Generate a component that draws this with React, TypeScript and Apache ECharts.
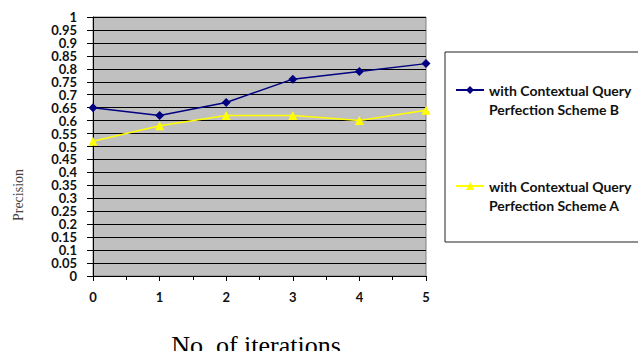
import React, { useEffect, useRef } from "react";
import * as echarts from "echarts";

const iterations = [0, 1, 2, 3, 4, 5];
const schemeB = [0.65, 0.62, 0.67, 0.76, 0.79, 0.82];
const schemeA = [0.52, 0.58, 0.62, 0.62, 0.6, 0.64];
const seriesNames = [
  "with Contextual Query Perfection Scheme B",
  "with Contextual Query Perfection Scheme A",
];
const legendLines: Record<string, string[]> = {
  [seriesNames[0]]: ["with Contextual Query", "Perfection Scheme B"],
  [seriesNames[1]]: ["with Contextual Query", "Perfection Scheme A"],
};
const xAxisTitle = "No. of iterations";
const yAxisTitle = "Precision";

const labelFont = "Lato, 'Open Sans', sans-serif";
const serifFont = "'Liberation Serif', 'Times New Roman', serif";

export default function App() {
  const ref = useRef<HTMLDivElement>(null);
  useEffect(() => {
    if (!ref.current) return;
    const chart = echarts.init(ref.current, undefined, { renderer: "svg" });
    chart.setOption({
      animation: false,
      backgroundColor: "#ffffff",
      grid: {
        left: 93,
        top: 17,
        right: 212,
        bottom: 75,
        show: true,
        backgroundColor: "#c0c0c0",
        borderColor: "#808080",
        borderWidth: 1,
      },
      xAxis: {
        type: "value",
        min: 0,
        max: 5,
        interval: 1,
        axisLine: { show: true, onZero: false, lineStyle: { color: "#000", width: 1 } },
        axisTick: { show: true, inside: false, length: 5, lineStyle: { color: "#000" } },
        minorTick: { show: true, splitNumber: 2, length: 4, lineStyle: { color: "#000" } },
        splitLine: { show: false },
        axisLabel: {
          margin: 14,
          fontFamily: labelFont,
          fontWeight: "bold",
          fontSize: 13,
          color: "#111",
          formatter: (v: number) => String(iterations[Math.round(v)] ?? v),
        },
      },
      yAxis: {
        type: "value",
        min: 0,
        max: 1,
        interval: 0.05,
        axisLine: { show: true, lineStyle: { color: "#000", width: 1 } },
        axisTick: { show: true, inside: false, length: 6, lineStyle: { color: "#000" } },
        splitLine: { show: true, lineStyle: { color: "#000", width: 1 } },
        axisLabel: {
          margin: 16,
          fontFamily: labelFont,
          fontWeight: "bold",
          fontSize: 13,
          lineHeight: 12,
          color: "#111",
          formatter: (v: number) => String(parseFloat(v.toFixed(2))),
        },
      },
      legend: {
        orient: "vertical",
        left: 455,
        top: 61.5,
        padding: 0,
        itemGap: 39,
        itemWidth: 28,
        itemHeight: 10,
        data: seriesNames,
        formatter: (name: string) => "\n" + legendLines[name].join("\n"),
        textStyle: {
          fontFamily: labelFont,
          fontWeight: "bold",
          fontSize: 14,
          lineHeight: 19,
          color: "#111",
        },
      },
      graphic: [
        {
          type: "rect",
          shape: { x: 445, y: 52, width: 200, height: 190 },
          style: { fill: "none", stroke: "#222", lineWidth: 1 },
          z: -1,
        },
        {
          type: "text",
          x: 18,
          y: 195,
          rotation: Math.PI / 2,
          style: {
            text: yAxisTitle,
            font: `14px ${serifFont}`,
            fill: "#444",
            align: "center",
            verticalAlign: "middle",
          },
        },
        {
          type: "text",
          x: 256,
          y: 332,
          style: {
            text: xAxisTitle,
            font: `26px ${serifFont}`,
            fill: "#000",
            align: "center",
            verticalAlign: "top",
          },
        },
      ],
      series: [
        {
          name: seriesNames[0],
          type: "line",
          data: iterations.map((x, i) => [x, schemeB[i]]),
          symbol: "diamond",
          symbolSize: 9,
          lineStyle: { color: "#000080", width: 1.5 },
          itemStyle: { color: "#000080" },
        },
        {
          name: seriesNames[1],
          type: "line",
          data: iterations.map((x, i) => [x, schemeA[i]]),
          symbol: "triangle",
          symbolSize: 9,
          lineStyle: { color: "#ffff00", width: 1.5 },
          itemStyle: { color: "#ffff00" },
        },
      ],
    });
    return () => chart.dispose();
  }, []);
  return (
    <div
      ref={ref}
      style={{ position: "fixed", left: 0, top: 0, width: 638, height: 351 }}
    />
  );
}
